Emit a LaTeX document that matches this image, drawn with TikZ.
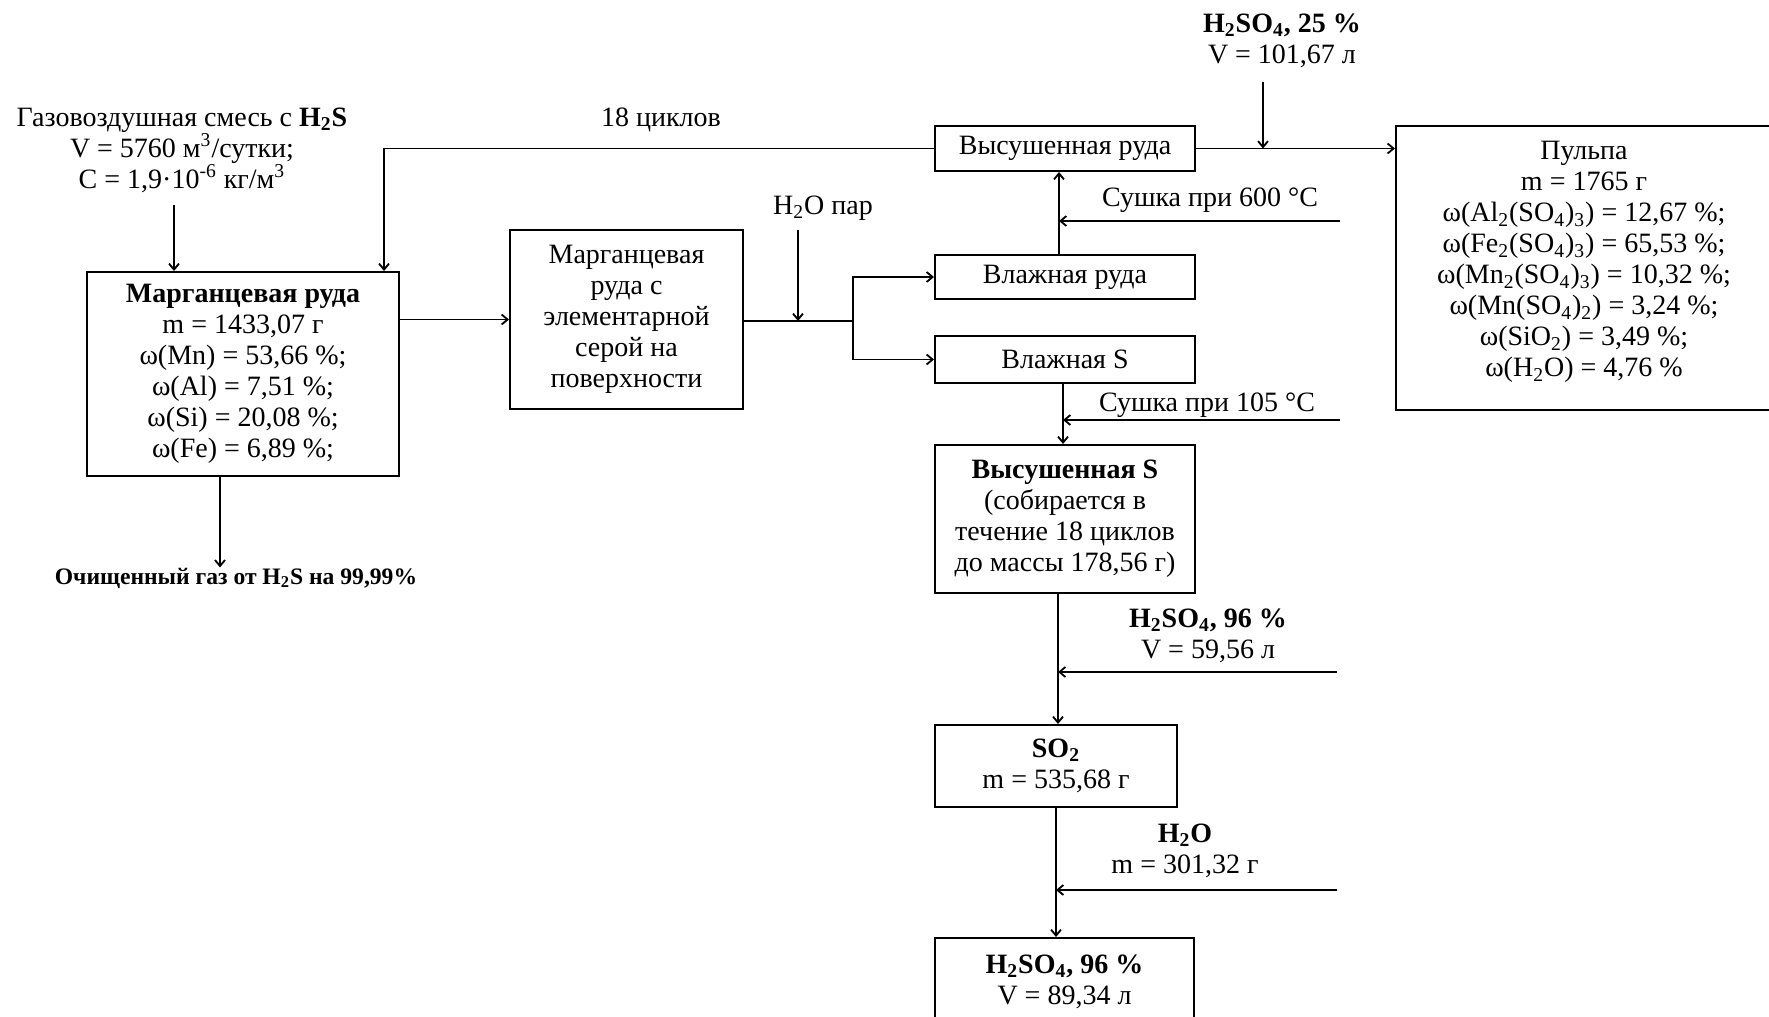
\documentclass[tikz,border=0pt]{standalone}
\usepackage{fontspec}
\setmainfont{Liberation Serif}
\usetikzlibrary{arrows.meta}
\newcommand{\ix}[1]{\textsubscript{#1}}
\begin{document}
\begin{tikzpicture}[x=0.5pt,y=-0.5pt,
  font=\fontsize{14}{15.5}\selectfont,
  box/.style={draw, line width=1pt, inner sep=0pt, align=center},
  txt/.style={inner sep=0pt, align=center},
  ln/.style={line width=0.9pt},
  arr/.style={ln, -{Straight Barb[length=3pt,width=5pt]}}]
\useasboundingbox (0,0) rectangle (1769,1017);
\clip (0,0) rectangle (1769,1017);

% process boxes
\node[box, minimum width=156pt, minimum height=102pt] (ore) at (243,374)
  {\textbf{Марганцевая руда}\\m = 1433,07 г\\ω(Mn) = 53,66 \%;\\ω(Al) = 7,51 \%;\\ω(Si) = 20,08 \%;\\ω(Fe) = 6,89 \%;};
\node[box, minimum width=116.5pt, minimum height=89.5pt] (mix) at (626.5,319.5)
  {Марганцевая\\руда с\\элементарной\\серой на\\поверхности};
\node[box, minimum width=130pt, minimum height=22.5pt] (dryore) at (1065,148.5) {Высушенная руда};
\node[box, minimum width=130pt, minimum height=22pt] (wetore) at (1065,277) {Влажная руда};
\node[box, minimum width=130pt, minimum height=23.5pt] (wets) at (1065,359.5) {Влажная S};
\node[box, minimum width=130pt, minimum height=74pt] (dryS) at (1065,519)
  {\textbf{Высушенная S}\\(собирается в\\течение 18 циклов\\до массы 178,56 г)};
\node[box, minimum width=121pt, minimum height=41pt] (so2) at (1056,766)
  {\textbf{SO\ix{2}}\\m = 535,68 г};
\node[box, minimum width=129.5pt, minimum height=43.5pt] (acid) at (1064.5,981.5)
  {\textbf{H\ix{2}SO\ix{4}, 96 \%}\\V = 89,34 л};
\node[box, minimum width=188pt, minimum height=142pt] (pulp) at (1584,268) {};
\node[txt] (pulptext) at (1584,262)
  {Пульпа\\m = 1765 г\\ω(Al\ix{2}(SO\ix{4})\ix{3}) = 12,67 \%;\\ω(Fe\ix{2}(SO\ix{4})\ix{3}) = 65,53 \%;\\ω(Mn\ix{2}(SO\ix{4})\ix{3}) = 10,32 \%;\\ω(Mn(SO\ix{4})\ix{2}) = 3,24 \%;\\ω(SiO\ix{2}) = 3,49 \%;\\ω(H\ix{2}O) = 4,76 \%};

% stream labels
\node[txt] (gas) at (182,150)
  {Газовоздушная смесь с \textbf{H\ix{2}S}\\V = 5760 м\textsuperscript{3}/сутки;\\C = 1,9·10\textsuperscript{-6} кг/м\textsuperscript{3}};
\node[txt, font=\fontsize{11.8}{13}\selectfont\bfseries] (clean) at (236,578)
  {Очищенный газ от H\ix{2}S на 99,99\%};
\node[txt] (cycles) at (661,120) {18 циклов};
\node[txt] (steam) at (823,208) {H\ix{2}O пар};
\node[txt] (acid25) at (1282,41) {\textbf{H\ix{2}SO\ix{4}, 25 \%}\\V = 101,67 л};
\node[txt] (dry600) at (1210,200) {Сушка при 600 °C};
\node[txt] (dry105) at (1207,405) {Сушка при 105 °C};
\node[txt] (acid96) at (1208,636) {\textbf{H\ix{2}SO\ix{4}, 96 \%}\\V = 59,56 л};
\node[txt] (water) at (1185,851) {\textbf{H\ix{2}O}\\m = 301,32 г};

% helper points for the connectors
\coordinate (g1) at (174,205);
\coordinate (c1) at (220,0);
\coordinate (ret) at (384,0);
\coordinate (j) at (853,321);
\coordinate (fs) at (798,230);
\coordinate (f25) at (1263,82);
\coordinate (up) at (1059,0);
\coordinate (f600) at (1340,221);
\coordinate (dn1) at (1063,0);
\coordinate (f105) at (1340,420);
\coordinate (dn2) at (1058,0);
\coordinate (fb) at (1337,672);
\coordinate (dn3) at (1056,0);
\coordinate (fw) at (1337,890);

% gas purification
\draw[arr] (g1) -- (g1 |- ore.north);
\draw[arr] (ore.south -| c1) -- (clean.north -| c1);
\draw[arr] (ore.east |- mix.west) -- (mix.west);

% steam treatment and separation
\draw[ln] (mix.east |- j) -- (j);
\draw[arr] (fs) -- (fs |- j);
\draw[arr] (j) |- (wetore.west);
\draw[arr] (j) |- (wets.west);

% ore drying, recycle and leaching
\draw[arr] (wetore.north -| up) -- (dryore.south -| up);
\draw[arr] (f600) -- (f600 -| up);
\draw[arr] (dryore.west) -| (ore.north -| ret);
\draw[arr] (dryore.east) -- (pulp.west |- dryore.east);
\draw[arr] (f25) -- (f25 |- dryore.east);

% sulphur line
\draw[arr] (wets.south -| dn1) -- (dryS.north -| dn1);
\draw[arr] (f105) -- (f105 -| dn1);
\draw[arr] (dryS.south -| dn2) -- (so2.north -| dn2);
\draw[arr] (fb) -- (fb -| dn2);
\draw[arr] (so2.south -| dn3) -- (acid.north -| dn3);
\draw[arr] (fw) -- (fw -| dn3);
\end{tikzpicture}
\end{document}
